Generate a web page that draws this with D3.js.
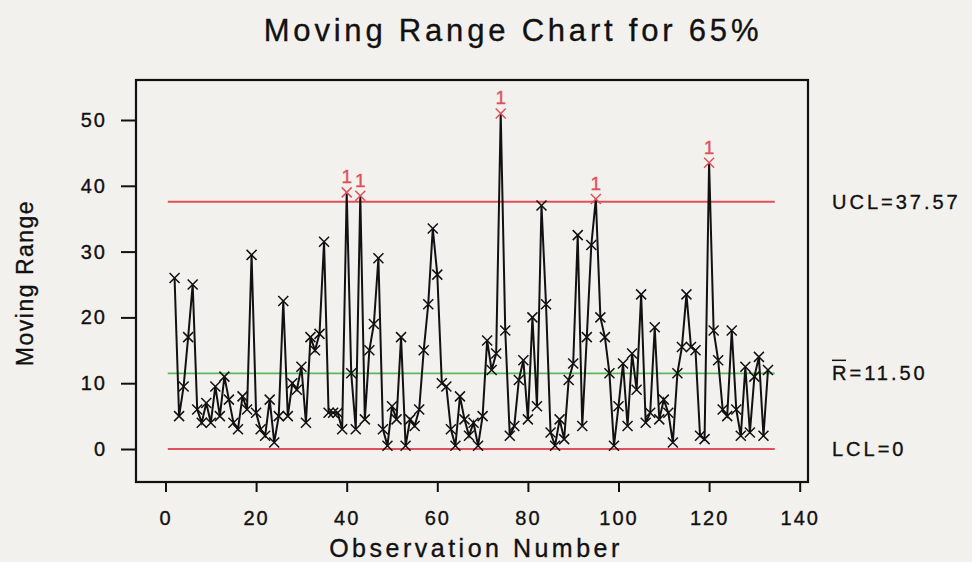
<!DOCTYPE html>
<html>
<head>
<meta charset="utf-8">
<script src="https://cdn.jsdelivr.net/npm/d3@7"></script>
<style>
  body { margin: 0; background: #f3f1ee; }
  text { font-family: "Liberation Sans", Arial, sans-serif; fill: #111; stroke: #111; stroke-width: 0.35px; }
</style>
</head>
<body>
<div id="chart"></div>
<script>
var svgWidth = 972;
var svgHeight = 562;

// moving ranges, observations 2..133
var obsStart = 2;
var movingRange = [
  26, 5, 9.5, 17, 25, 6, 4, 7, 4, 9.5,
  5, 11, 7.5, 4, 3, 8, 6, 29.5, 5.5, 3,
  2, 7.5, 1, 5, 22.5, 5, 10, 9, 12.5, 4,
  17, 15, 17.5, 31.5, 5.5, 5.5, 5.5, 3, 39, 11.5,
  3, 38.5, 4.5, 15, 19, 29, 3, 0.5, 6.5, 4.5,
  17, 0.5, 4.5, 3.5, 6, 15, 22, 33.5, 26.5, 10,
  9.5, 3, 0.5, 8, 4.5, 2, 4, 0.5, 5, 16.5,
  12, 14.5, 51, 18, 2, 3.5, 10.5, 13.5, 4.5, 20,
  6.5, 37, 22, 2.5, 0.5, 4.5, 1.5, 10.5, 13, 32.5,
  3.5, 17, 31, 38, 20, 17, 11.5, 0.5, 6.5, 13,
  3.5, 14.5, 9, 23.5, 4, 5.5, 18.5, 4.5, 7.5, 5.5,
  1, 11.5, 15.5, 23.5, 15.5, 15, 2, 1.5, 43.5, 18,
  13.5, 6, 5, 18, 6, 2, 12.5, 2.5, 11, 14,
  2, 12
];

var ucl = 37.57;
var rBar = 11.50;
var lcl = 0;

var xTicks = [0, 20, 40, 60, 80, 100, 120, 140];
var yTicks = [0, 10, 20, 30, 40, 50];

var data = movingRange.map(function(v, i) {
  return { obs: obsStart + i, mr: v };
});

var svg = d3.select("#chart")
  .append("svg")
  .attr("width", svgWidth)
  .attr("height", svgHeight);

// scales
var xScale = d3.scaleLinear().domain([0, 140]).range([165.5, 799.7]);
var yScale = d3.scaleLinear().domain([0, 50]).range([449, 120]);

// frame
svg.append("rect")
  .attr("x", 136)
  .attr("y", 80)
  .attr("width", 672)
  .attr("height", 402)
  .attr("fill", "none")
  .attr("stroke", "#111")
  .attr("stroke-width", 2.2);

// x axis
var bottomAxis = d3.axisBottom(xScale)
  .tickValues(xTicks)
  .tickSize(10)
  .tickPadding(19);

var xAxis = svg.append("g")
  .attr("transform", "translate(0, 482)")
  .call(bottomAxis);
xAxis.select(".domain").remove();
xAxis.selectAll("line").attr("stroke", "#111").attr("stroke-width", 2);
xAxis.selectAll("text")
  .attr("font-size", 20)
  .attr("letter-spacing", 2)
  .style("font-family", "Liberation Sans, Arial, sans-serif")
  .attr("fill", "#111");

// y axis
var leftAxis = d3.axisLeft(yScale)
  .tickValues(yTicks)
  .tickSize(15)
  .tickPadding(14);

var yAxis = svg.append("g")
  .attr("transform", "translate(136, 0)")
  .call(leftAxis);
yAxis.select(".domain").remove();
yAxis.selectAll("line").attr("stroke", "#111").attr("stroke-width", 2);
yAxis.selectAll("text")
  .attr("font-size", 20)
  .attr("letter-spacing", 2)
  .style("font-family", "Liberation Sans, Arial, sans-serif")
  .attr("fill", "#111");

// control lines
var lineX0 = xScale(0.5);
var lineX1 = xScale(134.5);

[ucl, lcl].forEach(function(v) {
  svg.append("line")
    .attr("x1", lineX0)
    .attr("x2", lineX1)
    .attr("y1", yScale(v))
    .attr("y2", yScale(v))
    .attr("stroke", "#e0505a")
    .attr("stroke-width", 2);
});

svg.append("line")
  .attr("x1", lineX0)
  .attr("x2", lineX1)
  .attr("y1", yScale(rBar))
  .attr("y2", yScale(rBar))
  .attr("stroke", "#5cb85c")
  .attr("stroke-width", 1.6);

// data line
var line = d3.line()
  .x(d => xScale(d.obs))
  .y(d => yScale(d.mr));

svg.append("path")
  .datum(data)
  .attr("d", line)
  .attr("fill", "none")
  .attr("stroke", "#111")
  .attr("stroke-width", 2);

// x markers
var s = 5;
var markers = svg.selectAll(".mark")
  .data(data)
  .enter()
  .append("path")
  .attr("class", "mark")
  .attr("d", function(d) {
    var cx = xScale(d.obs), cy = yScale(d.mr);
    return "M" + (cx - s) + "," + (cy - s) + "L" + (cx + s) + "," + (cy + s) +
      "M" + (cx - s) + "," + (cy + s) + "L" + (cx + s) + "," + (cy - s);
  })
  .attr("stroke", d => d.mr > ucl ? "#e0505a" : "#111")
  .attr("stroke-width", 1.5);

// test 1 flags
svg.selectAll(".flag")
  .data(data.filter(d => d.mr > ucl))
  .enter()
  .append("text")
  .attr("class", "flag")
  .attr("x", d => xScale(d.obs))
  .attr("y", d => yScale(d.mr) - 9)
  .attr("text-anchor", "middle")
  .attr("font-size", 19)
  .style("fill", "#e0505a")
  .style("stroke", "#e0505a")
  .text("1");

// right side labels
svg.append("text")
  .attr("x", 832)
  .attr("y", yScale(ucl) + 7)
  .attr("font-size", 20)
  .attr("letter-spacing", 3)
  .text("UCL=" + ucl.toFixed(2));

var rLabel = svg.append("text")
  .attr("x", 832)
  .attr("y", yScale(rBar) + 7)
  .attr("font-size", 20)
  .attr("letter-spacing", 3);
rLabel.append("tspan").text("R");
rLabel.append("tspan").text("=" + rBar.toFixed(2));

// bar over R
svg.append("line")
  .attr("x1", 832)
  .attr("x2", 846)
  .attr("y1", yScale(rBar) - 13)
  .attr("y2", yScale(rBar) - 13)
  .attr("stroke", "#111")
  .attr("stroke-width", 1.5);

svg.append("text")
  .attr("x", 832)
  .attr("y", yScale(lcl) + 7)
  .attr("font-size", 20)
  .attr("letter-spacing", 3)
  .text("LCL=" + lcl);

// title and axis titles
svg.append("text")
  .attr("x", 513)
  .attr("y", 41)
  .attr("text-anchor", "middle")
  .attr("font-size", 31)
  .attr("letter-spacing", 3.8)
  .text("Moving Range Chart for 65%");

svg.append("text")
  .attr("x", 476)
  .attr("y", 557)
  .attr("text-anchor", "middle")
  .attr("font-size", 25)
  .attr("letter-spacing", 3.5)
  .text("Observation Number");

svg.append("text")
  .attr("transform", "translate(33, 283) rotate(-90)")
  .attr("text-anchor", "middle")
  .attr("font-size", 23)
  .attr("letter-spacing", 1.5)
  .text("Moving Range");
</script>
</body>
</html>
